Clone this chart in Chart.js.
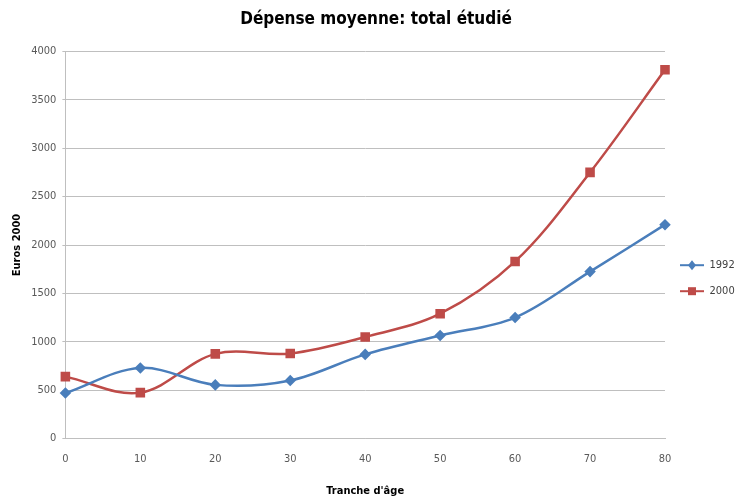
<!DOCTYPE html>
<html>
<head>
<meta charset="utf-8">
<script src="https://cdn.jsdelivr.net/npm/chart.js@4/dist/chart.umd.min.js"></script>
<style>
  html, body { margin: 0; padding: 0; background: #fff; }
  #wrap { width: 741px; height: 498px; }
</style>
</head>
<body>
<div id="wrap"><canvas id="chart" width="741" height="498"></canvas></div>
<script>
// age brackets and spending (Euros 2000)
var ages = ['0', '10', '20', '30', '40', '50', '60', '70', '80'];
var spend1992 = [470, 730, 555, 600, 870, 1065, 1250, 1725, 2210];
var spend2000 = [640, 475, 875, 880, 1050, 1290, 1830, 2750, 3810];
var yTicks = [0, 500, 1000, 1500, 2000, 2500, 3000, 3500, 4000];

var blue = '#4a7ebb';
var red = '#be4b48';
var fontFam = '"DejaVu Sans Condensed", "Open Sans", sans-serif';

// the legend box is drawn as a thin line; add the marker on top of it
var legendMarkers = {
  id: 'legendMarkers',
  afterDraw: function (chart) {
    var lg = chart.legend;
    if (!lg || !lg.legendHitBoxes) return;
    var ctx = chart.ctx;
    lg.legendHitBoxes.forEach(function (box, i) {
      var ds = chart.data.datasets[i];
      var cx = box.left + 12;
      var cy = box.top + box.height / 2;
      ctx.save();
      ctx.fillStyle = ds.borderColor;
      ctx.beginPath();
      if (ds.pointStyle === 'rect') {
        ctx.rect(cx - 4, cy - 4, 8, 8);
      } else {
        ctx.moveTo(cx, cy - 5);
        ctx.lineTo(cx + 4, cy);
        ctx.lineTo(cx, cy + 5);
        ctx.lineTo(cx - 4, cy);
        ctx.closePath();
      }
      ctx.fill();
      ctx.restore();
    });
  }
};

new Chart(document.getElementById('chart'), {
  type: 'line',
  data: {
    labels: ages,
    datasets: [
      {
        label: '1992',
        data: spend1992,
        borderColor: blue,
        backgroundColor: blue,
        borderWidth: 2.5,
        pointStyle: 'rectRot',
        pointRadius: 4,
        tension: 0.35
      },
      {
        label: '2000',
        data: spend2000,
        borderColor: red,
        backgroundColor: red,
        borderWidth: 2.5,
        pointStyle: 'rect',
        pointRadius: 5,
        tension: 0.35
      }
    ]
  },
  options: {
    responsive: false,
    animation: false,
    layout: { padding: { left: 11, right: 0, top: 4, bottom: 0 } },
    plugins: {
      legend: {
        display: true,
        position: 'right',
        maxWidth: 76,
        // empty title only pushes the entries down a bit
        title: { display: true, text: ' ', font: { size: 2 }, padding: { top: 0, bottom: 52 } },
        labels: {
          boxWidth: 24,
          boxHeight: 2,
          padding: 15,
          color: '#404040',
          font: { family: fontFam, size: 11 },
          generateLabels: function (chart) {
            return chart.data.datasets.map(function (ds, i) {
              return {
                text: ds.label,
                fillStyle: ds.borderColor,
                strokeStyle: ds.borderColor,
                lineWidth: 0,
                fontColor: '#404040',
                datasetIndex: i
              };
            });
          }
        }
      },
      tooltip: { enabled: false },
      title: {
        display: true,
        text: 'Dépense moyenne: total étudié',
        color: '#000',
        font: { family: fontFam, size: 17, weight: 'bold' },
        padding: { top: 5, bottom: 22 }
      }
    },
    scales: {
      x: {
        offset: false,
        grid: { display: false, drawTicks: false },
        border: { color: '#bfbfbf', width: 1 },
        ticks: { color: '#595959', font: { family: fontFam, size: 11 }, padding: 14 },
        title: {
          display: true,
          text: "Tranche d'âge",
          color: '#000',
          font: { family: fontFam, size: 11, weight: 'bold' },
          padding: { top: 5, bottom: 0 }
        }
      },
      y: {
        min: 0,
        max: 4000,
        afterBuildTicks: function (axis) {
          axis.ticks = yTicks.map(function (v) { return { value: v }; });
        },
        grid: { color: '#bfbfbf', drawTicks: true, tickLength: 3 },
        border: { color: '#bfbfbf', width: 1 },
        ticks: {
          color: '#595959',
          font: { family: fontFam, size: 11 },
          padding: 6,
          callback: function (v) { return String(v); }
        },
        title: {
          display: true,
          text: 'Euros 2000',
          color: '#000',
          font: { family: fontFam, size: 11, weight: 'bold' },
          padding: { top: 0, bottom: 1 }
        }
      }
    }
  },
  plugins: [legendMarkers]
});
</script>
</body>
</html>
